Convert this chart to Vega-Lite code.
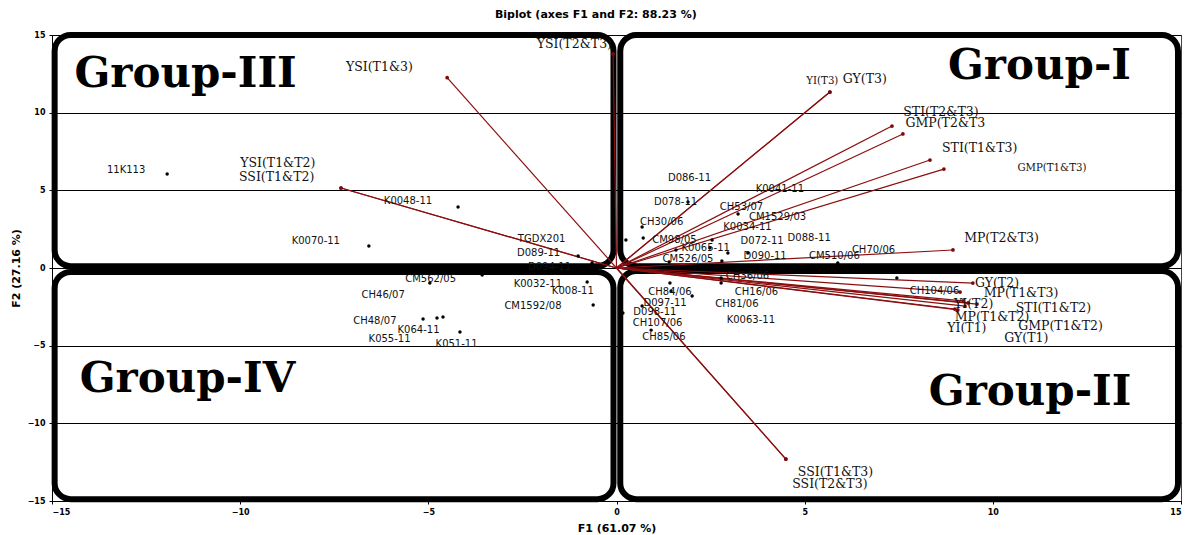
{
  "$schema": "https://vega.github.io/schema/vega-lite/v6.json",
  "width": 1129,
  "height": 466,
  "autosize": {"type": "none"},
  "padding": {"left": 52, "top": 35, "right": 12, "bottom": 34},
  "background": "white",
  "title": {
    "text": "Biplot (axes F1 and F2: 88.23 %)",
    "anchor": "middle",
    "frame": "bounds",
    "font": "DejaVu Sans",
    "fontSize": 11,
    "fontWeight": "bold",
    "color": "#000",
    "baseline": "bottom",
    "offset": 0
  },
  "config": {
    "view": {"stroke": "#444", "strokeWidth": 1},
    "axis": {
      "labelFont": "DejaVu Sans",
      "labelFontWeight": "bold",
      "labelFontSize": 8,
      "labelColor": "#000",
      "domainColor": "#000",
      "tickColor": "#000",
      "tickSize": 3,
      "titleFont": "DejaVu Sans",
      "titleFontSize": 11,
      "titleFontWeight": "bold",
      "titleColor": "#000"
    }
  },
  "datasets": {
    "groups": [
      {"group": "Group-III", "x": -14.93, "xe": -0.08, "y": 0.12, "ye": 15.0},
      {"group": "Group-I", "x": 0.1, "xe": 14.92, "y": 0.12, "ye": 15.0},
      {"group": "Group-IV", "x": -14.93, "xe": -0.08, "y": -14.88, "ye": -0.25},
      {"group": "Group-II", "x": 0.1, "xe": 14.92, "y": -14.88, "ye": -0.2}
    ],
    "grouplabels": [
      {"text": "Group-III", "x": -11.45, "y": 11.65},
      {"text": "Group-I", "x": 11.24, "y": 12.17},
      {"text": "Group-IV", "x": -11.4, "y": -7.98},
      {"text": "Group-II", "x": 10.99, "y": -8.82}
    ],
    "vectors": [
      {"v": "YSI(T1&3)", "x": -4.5, "y": 12.25},
      {"v": "YSI(T2&T3)", "x": -0.09, "y": 13.78},
      {"v": "YSI(T1&T2)", "x": -7.32, "y": 5.15},
      {"v": "SSI(T1&T2)", "x": -7.32, "y": 5.15},
      {"v": "SSI(T1&T3)", "x": 4.5, "y": -12.3},
      {"v": "SSI(T2&T3)", "x": 4.5, "y": -12.3},
      {"v": "YI(T3)", "x": 5.67, "y": 11.33},
      {"v": "GY(T3)", "x": 5.67, "y": 11.33},
      {"v": "STI(T2&T3)", "x": 7.32, "y": 9.14},
      {"v": "GMP(T2&T3)", "x": 7.61, "y": 8.63},
      {"v": "STI(T1&T3)", "x": 8.33, "y": 6.95},
      {"v": "GMP(T1&T3)", "x": 8.7, "y": 6.37},
      {"v": "MP(T2&T3)", "x": 8.94, "y": 1.16},
      {"v": "GY(T2)", "x": 9.47, "y": -0.97},
      {"v": "MP(T1&T3)", "x": 9.13, "y": -1.55},
      {"v": "STI(T1&T2)", "x": 9.21, "y": -2.12},
      {"v": "YI(T2)", "x": 9.58, "y": -2.32},
      {"v": "GMP(T1&T2)", "x": 9.34, "y": -2.25},
      {"v": "MP(T1&T2)", "x": 9.07, "y": -2.7},
      {"v": "YI(T1)", "x": 8.99, "y": -2.64},
      {"v": "GY(T1)", "x": 9.26, "y": -2.45}
    ],
    "varlabels": [
      {"text": "YSI(T1&3)", "x": -6.3, "y": 12.94},
      {"text": "YSI(T2&T3)", "x": -1.12, "y": 14.42},
      {"text": "YSI(T1&T2)", "x": -9.0, "y": 6.76},
      {"text": "SSI(T1&T2)", "x": -9.03, "y": 5.86},
      {"text": "SSI(T1&T3)", "x": 5.82, "y": -13.13},
      {"text": "SSI(T2&T3)", "x": 5.67, "y": -13.91},
      {"text": "YI(T3)", "x": 5.47, "y": 12.04},
      {"text": "GY(T3)", "x": 6.6, "y": 12.17},
      {"text": "STI(T2&T3)", "x": 8.62, "y": 10.04},
      {"text": "GMP(T2&T3", "x": 8.74, "y": 9.34},
      {"text": "STI(T1&T3)", "x": 9.65, "y": 7.73},
      {"text": "GMP(T1&T3)", "x": 11.57, "y": 6.44},
      {"text": "MP(T2&T3)", "x": 10.23, "y": 1.93},
      {"text": "GY(T2)", "x": 10.11, "y": -0.97},
      {"text": "MP(T1&T3)", "x": 10.75, "y": -1.61},
      {"text": "YI(T2)", "x": 9.49, "y": -2.32},
      {"text": "STI(T1&T2)", "x": 11.61, "y": -2.58},
      {"text": "MP(T1&T2)", "x": 9.98, "y": -3.15},
      {"text": "YI(T1)", "x": 9.31, "y": -3.86},
      {"text": "GMP(T1&T2)", "x": 11.8, "y": -3.73},
      {"text": "GY(T1)", "x": 10.89, "y": -4.51}
    ],
    "obs": [
      {"x": -11.94, "y": 6.05}, {"x": -6.58, "y": 1.42}, {"x": -4.21, "y": 3.93},
      {"x": 0.25, "y": 1.8}, {"x": -1.02, "y": 0.77}, {"x": -0.65, "y": 0.32},
      {"x": 1.9, "y": 4.25}, {"x": 3.23, "y": 3.48}, {"x": 0.68, "y": 2.64},
      {"x": 0.71, "y": 1.93}, {"x": 2.54, "y": 1.8}, {"x": 1.58, "y": 1.16},
      {"x": 2.48, "y": 1.29}, {"x": 2.96, "y": 0.97}, {"x": 1.4, "y": 0.39},
      {"x": 2.8, "y": 0.45}, {"x": 3.49, "y": 0.97}, {"x": 5.88, "y": 0.32},
      {"x": 2.78, "y": -0.64}, {"x": 2.78, "y": -0.97}, {"x": 1.42, "y": -0.97},
      {"x": 1.45, "y": -1.48}, {"x": 2.01, "y": -1.8}, {"x": 0.68, "y": -2.45},
      {"x": 0.17, "y": -2.9}, {"x": 0.92, "y": -4.0}, {"x": 7.45, "y": -0.64},
      {"x": -4.96, "y": -0.97}, {"x": -3.57, "y": -0.45}, {"x": -0.78, "y": -0.9},
      {"x": -0.62, "y": -2.38}, {"x": -5.14, "y": -3.28}, {"x": -4.77, "y": -3.22},
      {"x": -4.61, "y": -3.15}, {"x": -4.16, "y": -4.12}
    ],
    "obslabels": [
      {"text": "11K113", "x": -13.03, "y": 6.31},
      {"text": "K0070-11", "x": -7.99, "y": 1.74},
      {"text": "K0048-11", "x": -5.54, "y": 4.31},
      {"text": "TGDX201", "x": -1.99, "y": 1.87},
      {"text": "D089-11", "x": -2.07, "y": 0.97},
      {"text": "D094-11", "x": -1.78, "y": 0.06},
      {"text": "D086-11", "x": 1.94, "y": 5.79},
      {"text": "D078-11", "x": 1.57, "y": 4.25},
      {"text": "K0041-11", "x": 4.34, "y": 5.09},
      {"text": "CH53/07", "x": 3.32, "y": 3.93},
      {"text": "CM1529/03", "x": 4.28, "y": 3.28},
      {"text": "K0034-11", "x": 3.48, "y": 2.64},
      {"text": "CH30/06", "x": 1.2, "y": 2.96},
      {"text": "CM98/05", "x": 1.54, "y": 1.8},
      {"text": "D072-11", "x": 3.87, "y": 1.74},
      {"text": "D088-11", "x": 5.12, "y": 1.93},
      {"text": "K0065-11", "x": 2.37, "y": 1.29},
      {"text": "CM526/05", "x": 1.9, "y": 0.58},
      {"text": "D090-11", "x": 3.95, "y": 0.77},
      {"text": "CM510/06", "x": 5.79, "y": 0.77},
      {"text": "CH70/06", "x": 6.83, "y": 1.16},
      {"text": "CH36/06", "x": 3.48, "y": -0.52},
      {"text": "CH84/06", "x": 1.42, "y": -1.55},
      {"text": "CH16/06", "x": 3.72, "y": -1.55},
      {"text": "D097-11", "x": 1.29, "y": -2.25},
      {"text": "CH81/06", "x": 3.2, "y": -2.32},
      {"text": "D098-11", "x": 1.02, "y": -2.83},
      {"text": "K0063-11", "x": 3.57, "y": -3.35},
      {"text": "CH107/06", "x": 1.09, "y": -3.54},
      {"text": "CH85/06", "x": 1.26, "y": -4.44},
      {"text": "CH104/06", "x": 8.45, "y": -1.48},
      {"text": "CM562/05", "x": -4.94, "y": -0.71},
      {"text": "K0032-11", "x": -2.09, "y": -1.03},
      {"text": "K008-11", "x": -1.16, "y": -1.48},
      {"text": "CM1592/08", "x": -2.22, "y": -2.45},
      {"text": "CH46/07", "x": -6.2, "y": -1.74},
      {"text": "CH48/07", "x": -6.42, "y": -3.41},
      {"text": "K064-11", "x": -5.26, "y": -3.99},
      {"text": "K055-11", "x": -6.03, "y": -4.57},
      {"text": "K051-11", "x": -4.25, "y": -4.89}
    ]
  },
  "encoding": {
    "x": {
      "field": "x",
      "type": "quantitative",
      "scale": {"domain": [-15, 15], "nice": false, "zero": false},
      "axis": {
        "title": "F1 (61.07 %)",
        "values": [-15, -10, -5, 0, 5, 10, 15],
        "grid": false,
        "labelPadding": 4,
        "titlePadding": 6
      }
    },
    "y": {
      "field": "y",
      "type": "quantitative",
      "scale": {"domain": [-15, 15], "nice": false, "zero": false},
      "axis": {
        "title": "F2 (27.16 %)",
        "values": [-15, -10, -5, 0, 5, 10, 15],
        "grid": true,
        "gridColor": "#000",
        "gridOpacity": 1,
        "gridWidth": 1,
        "labelPadding": 4,
        "titlePadding": 6
      }
    }
  },
  "layer": [
    {
      "data": {"name": "groups"},
      "mark": {"type": "rect", "filled": false, "stroke": "#000", "strokeWidth": 6, "cornerRadius": 16},
      "encoding": {
        "x2": {"field": "xe"},
        "y2": {"field": "ye"}
      }
    },
    {
      "data": {"name": "grouplabels"},
      "mark": {"type": "text", "font": "DejaVu Serif", "fontWeight": "bold", "fontSize": 42, "align": "center", "baseline": "alphabetic", "color": "#000"},
      "encoding": {"text": {"field": "text"}}
    },
    {
      "data": {"name": "vectors"},
      "mark": {"type": "rule", "color": "#8b0f0f", "strokeWidth": 1.2},
      "encoding": {
        "x": {"datum": 0, "type": "quantitative"},
        "y": {"datum": 0, "type": "quantitative"},
        "x2": {"field": "x"},
        "y2": {"field": "y"}
      }
    },
    {
      "data": {"name": "vectors"},
      "mark": {"type": "circle", "color": "#7a0a0a", "size": 14, "opacity": 1}
    },
    {
      "data": {"name": "obs"},
      "mark": {"type": "circle", "color": "#000", "size": 12, "opacity": 1}
    },
    {
      "data": {"name": "varlabels"},
      "transform": [{"filter": "datum.text !== 'YI(T3)' && datum.text !== 'GMP(T1&T3)'"}],
      "mark": {"type": "text", "font": "DejaVu Serif", "fontSize": 12.5, "align": "center", "baseline": "middle", "color": "#111"},
      "encoding": {"text": {"field": "text"}}
    },
    {
      "data": {"name": "varlabels"},
      "transform": [{"filter": "datum.text === 'YI(T3)' || datum.text === 'GMP(T1&T3)'"}],
      "mark": {"type": "text", "font": "DejaVu Serif", "fontSize": 10.2, "align": "center", "baseline": "middle", "color": "#111"},
      "encoding": {"text": {"field": "text"}}
    },
    {
      "data": {"name": "obslabels"},
      "mark": {"type": "text", "font": "DejaVu Sans", "fontSize": 10, "align": "center", "baseline": "middle", "color": "#111"},
      "encoding": {"text": {"field": "text"}}
    }
  ]
}
